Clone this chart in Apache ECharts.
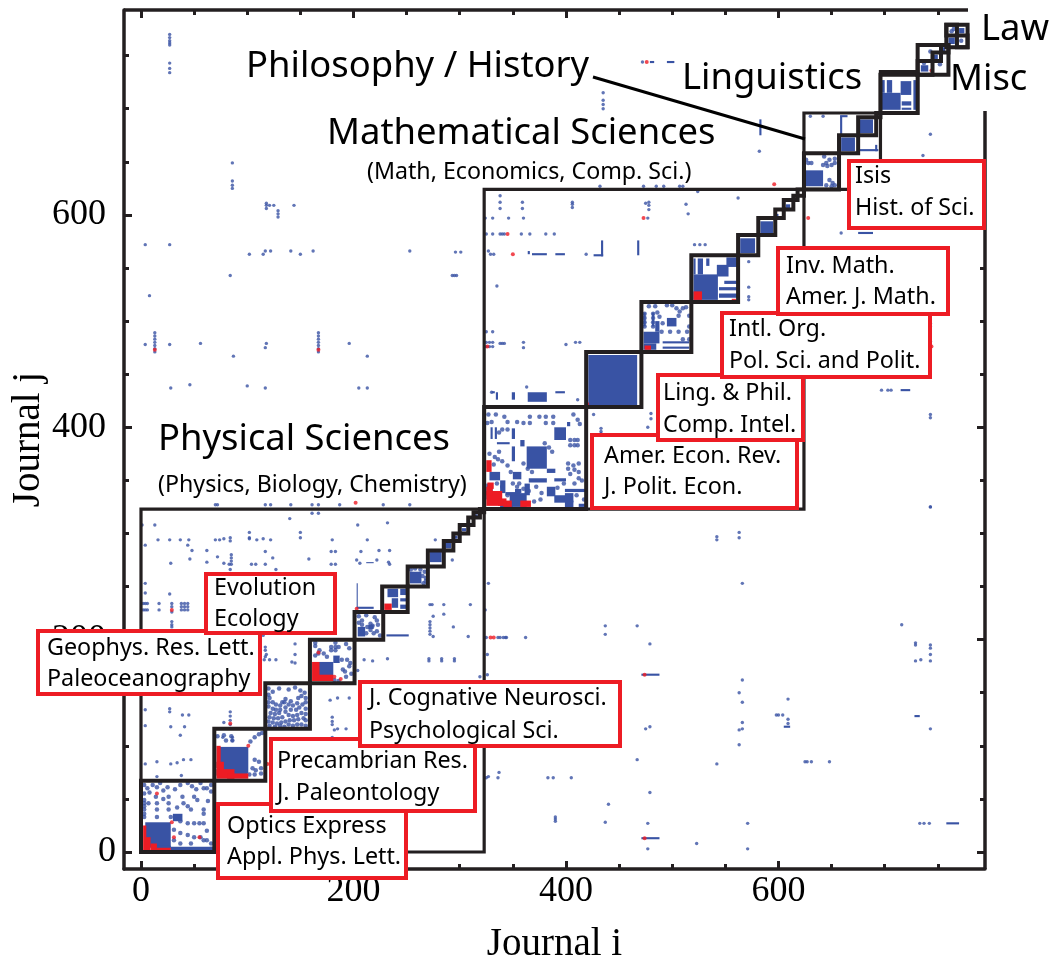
<!DOCTYPE html>
<html><head><meta charset="utf-8">
<style>html,body{margin:0;padding:0;background:#fff}#c{width:1053px;height:963px}</style>
<script src="https://cdn.jsdelivr.net/npm/echarts@6/dist/echarts.min.js"></script>
</head><body><div id="c"></div>
<script>
const xMajor=[0,200,400,600], yMajor=[0,200,400,600];
const yLabels=[200,400,600], yZeroLabel=[0];
const xMinor=[50,100,150,250,300,350,450,500,550,650,700,750];
const yMinor=[50,100,150,250,300,350,450,500,550,650,700,750];
const yMinorRight=[50,100,150,250,300,350,450,500,550];

// sparse non-zero entries [i, j]
const bluePoints=[
[743,325],[563,301],[563,296],[542,297],[542,294],[566,253],[327,253],[324,228],[437,213],[437,205],[467,213],[479,196],[716,214],[729,197],[729,195],[743,195],[743,192],[743,186],[729,180],[734,181],[743,180],
[325,202],[336,202],[338,202],[341,202],[343,202],[344,202],[362,202],[326,186],[326,167],[566,162],[563,150],[566,141],[609,144],[598,129],[600,129],[604,129],[609,125],[609,121],[566,122],[566,116],[563,115],[475,116],[479,118],[743,116],[563,101],[467,87],[542,83],[625,85],[627,85],[631,85],[648,85],[337,75],[336,70],[325,70],[327,71],[383,70],[388,70],[405,70],[479,56],[440,45],[437,28],[390,33],[390,31],[390,29],[477,27],[571,27],[733,27],[737,27],[742,27],[523,8],[477,3],[571,3],
[27,770],[27,767],[27,764],[27,762],[27,760],[27,743],[27,738],[27,734],[86,649],[86,632],[86,628],[86,625],[118,611],[118,609],[118,606],[121,609],[125,609],[144,609],[129,604],[129,601],[129,598],[4,572],[27,572],[253,566],[102,563],[115,563],[117,566],[122,566],[141,566],[150,563],[162,566],[296,565],[301,565],[84,543],[293,543],[295,543],[297,543],[8,524],
[13,489],[13,486],[13,483],[13,480],[13,477],[13,474],[13,471],[167,489],[167,486],[167,483],[167,480],[167,477],[167,474],[167,471],[4,478],[27,478],[56,479],[118,479],[117,475],[196,479],[87,467],[213,467],[28,437],[46,440],[100,439],[117,437],[205,437],[213,437],
[70,327],[72,327],[117,327],[122,327],[141,327],[161,327],[167,327],[187,327],[228,327],[253,327],[161,319],[167,319],[140,314],[1,308],[13,308],[102,301],[102,296],[150,301],[150,296],[16,294],[27,294],[37,294],[45,294],[70,294],[74,294],[78,295],[84,296],[84,293],[102,295],[109,294],[115,295],[122,294],[44,289],[48,284],[4,289],[62,284],[46,276],[28,272],[62,273],[72,278],[85,280],[85,277],[85,274],[85,271],[83,271],[84,266],[78,272],[104,271],[108,271],[117,271],[117,283],[124,277],[127,266],[158,276],[180,294],[179,283],[183,283],[179,271],[183,271],[204,308],[232,310],[213,294],[207,283],[224,284],[234,284],[203,275],[206,272],[222,275],[233,273],[234,271],[293,275],[277,294],
[4,253],[4,244],[27,243],[2,234],[4,234],[6,234],[2,228],[4,228],[6,228],[17,234],[17,228],[29,234],[29,231],[29,226],[38,234],[41,234],[44,234],[38,228],[41,228],[44,228],[38,231],[41,231],[44,231],[29,217],[29,214],[29,212],
[272,233],[274,233],[285,233],[310,233],[275,222],[285,224],[272,217],[272,214],[272,211],[272,208],[272,205],[275,203],[294,212],[308,203],[271,182],[271,180],[283,182],[283,180],[295,182],[295,180],[319,165],
[115,204],[117,193],[118,186],[112,181],[116,181],[121,181],[127,181],[145,196],[145,186],[142,179],[145,178],
[117,190],[117,184],[4,134],[4,119],[27,135],[27,132],[39,129],[45,129],[28,118],[41,118],[37,110],[78,122],[84,132],[84,128],[84,124],[84,120],[77,108],[86,108],[86,105],[15,85],[4,83],[28,83],[34,84],[40,87],[47,87],[15,71],[38,72],
[178,143],[185,145],[196,145],[180,127],[180,123],[180,120],[182,115],[185,116],[193,116],[180,108],[204,171],[218,180],[232,182],[210,181],
[338,618],[338,612],[338,606],[359,612],[359,606],[406,612],[406,610],[406,607],[475,611],[478,612],[478,609],[478,605],[513,610],[515,601],[324,597],[331,597],[346,597],[360,597],[477,597],[325,582],[331,582],[338,582],[340,582],[342,582],[358,582],[366,582],[381,582],[389,582],[327,566],[329,563],[332,563],[419,563],[521,572],[526,572],[531,572],[335,533],[325,490],[331,490],
[325,480],[328,480],[331,480],[325,476],[328,476],[331,476],[338,479],[340,479],[342,479],[360,480],[360,475],[400,478],[409,480],[413,480],
[330,433],[363,438],[411,426],[572,556],[572,532],[572,523],[572,520],[562,523],[562,616],[524,622],[426,412],[433,399],[433,396],[433,394],[480,413],[480,408],[477,400],[428,379],[428,375],[428,371],[428,367],[428,352],[428,349],[611,359],[611,338],[432,328],[479,327],[564,328],[571,325],[587,325],
[472,744],[435,715],[435,708],[435,704],[435,700],[582,660],[432,627],[473,627],[485,627],[492,627],[507,627],[510,627],
[659,583],[697,435],[703,435],[706,435],[743,412],[743,409],[743,325],[743,501],[743,498],[743,495],[743,481],[743,478],[743,473],[743,676],[736,656],[630,693],[642,693]
];
const redPoints=[[329,202],[332,202],[474,167],[474,13],[13,473],[167,473],[202,329],[29,228],[84,121],[119,83],[125,85],[476,744],[596,629],[628,597],[744,476],[326,476],[345,582],[473,597],[350,563],[420,422],[29,28],[15,55],[31,14],[55,14],[101,100],[203,229],[734,745],[744,736],[182,165],[188,163],[167,188]];

// points inside the diagonal communities [i, j]
const clusterPoints=[
// block A
[3,55],[3,49],[3,46],[3,43],[3,40],[3,36],[3,33],[7,46],[11,63],[14,52],[15,61],[18,65],[25,61],[26,52],[26,46],[26,40],[28,33],[15,46],[15,40],[15,33],[37,63],[44,65],[56,65],[59,60],[62,60],[66,63],[66,57],[50,52],[53,49],[40,46],[44,43],[47,40],[59,40],[59,36],[37,29],[44,27],[50,27],[55,27],[59,27],[31,21],[37,18],[44,16],[50,14],[56,14],[62,11],[31,11],[47,8],[66,8],[59,11],[66,3],[6,60],[3,63],[8,56],[21,50],[21,58],[32,59],[48,62],[52,59],[39,52],[34,42],[63,48],[62,20],[37,8],
// block B
[72,109],[78,110],[85,109],[80,105],[86,105],[103,104],[107,108],[111,111],[114,112],[107,87],[111,85],[105,79],[108,77],[113,79],[102,73],[107,73],[113,74],
// block C
[120,154],[124,151],[130,154],[139,153],[145,155],[150,152],[154,150],[151,147],[155,145],[148,145],[155,141],[152,139],[155,135],[120,148],[121,145],[120,141],[124,141],[127,139],[120,137],[124,135],[127,134],[131,138],[135,141],[122,131],[126,130],[130,131],[121,127],[125,126],[129,126],[133,127],[120,123],[124,122],[128,121],[132,122],[136,123],[121,119],[126,118],[131,119],[135,118],[139,120],[143,119],[147,120],[151,120],[155,119],[140,124],[144,124],[148,125],[153,126],[155,130],[151,131],[147,129],[143,128],[139,129],[155,124],[136,144],[141,142],[143,138],[141,134],[136,132],[131,134],[133,141],[139,139],[136,136],[146,134],[149,136],[147,140],
// block D
[164,194],[167,187],[168,190],[175,184],[179,193],[179,190],[183,197],[183,193],[183,190],[186,193],[193,196],[196,192],[194,181],[197,178],[164,197],[164,185],[172,187],[190,172],[193,165],[182,162],[186,161],[177,165],[192,170],[198,168],[196,175],[189,181],
// block E
[205,222],[208,218],[212,223],[220,221],[222,218],[216,215],[213,212],[216,209],[219,206],[222,208],[225,204],[212,206],[218,213],[208,214],[205,216],[223,214],
// block G
[258,267],[263,266],[267,264],[268,258],[266,253],[268,255],[254,266],[265,260],
// block P1
[375,410],[330,405],[334,412],[342,410],[345,405],[340,398],[337,395],[345,398],[354,405],[360,404],[366,410],[366,404],[381,410],[381,404],[388,410],[388,404],[407,412],[411,407],[413,403],[380,385],[384,381],[387,377],[404,388],[408,388],[411,388],[404,383],[408,383],[411,383],[402,366],[407,364],[412,366],[402,361],[408,360],[404,356],[412,358],[360,366],[364,361],[368,358],[340,368],[345,364],[336,370],[332,365],[350,347],[356,347],[360,342],[365,340],[372,344],[377,338],[376,332],[370,330],[392,343],[398,347],[408,347],[412,352],[415,350],[417,332],[410,336],[405,330],[335,347],[340,344],[345,336],[327,412],[326,404],[337,377],[328,375],[333,372],[348,358],[354,344],
// block P3
[474,507],[474,503],[474,499],[474,495],[482,507],[482,503],[482,499],[482,495],[486,508],[488,504],[491,498],[484,514],[478,514],[504,512],[507,509],[510,512],[495,515],[500,515],[513,513],[516,505],[516,495],[514,490],[506,490],[498,490],[490,490],[516,483],[510,483],[506,505],
// block H1
[626,652],[628,649],[631,649],[643,655],[648,652],[653,653],[645,649],[650,647],[653,649],[642,647],[646,646],[648,633],[651,630],[645,628],[650,627],[653,628],
// Misc and Law
[743,754],[752,742],[737,743],[763,773],[772,764],[765,775]
];

// filled runs of the matrix [i0, j0, i1, j1]
const blueRects=[
[4,4,28,28],[10,2,28,6],[28,1,69,5],[30,29,39,36],
[74,74,101,99],[82,71,100,76],
[167,166,181,179],[181,178,187,185],
[203,230,204,253],[203,229,219,231],[231,203,252,205],[212,272,219,273],[368,562,382,564],[390,562,399,564],[426,561,435,563],[433,561,435,576],[467,562,469,576],[364,563,366,566],
[471,166,488,168],[471,12,488,14],[605,117,611,119],[728,127,733,129],[758,26,770,28],[495,743,502,745],[479,743,483,745],[582,675,584,690],[675,582,689,584],[715,434,724,436],
[204,203,211,212],[214,210,219,214],
[232,240,242,248],[244,242,250,248],[236,230,242,239],[244,236,250,239],[244,229,250,233],
[253,253,264,264],[272,273,283,283],[286,286,292,291],[294,295,298,298],[302,302,306,305],[308,308,311,310],[314,315,317,318],
[364,424,382,433],[390,432,399,434],[334,426,336,433],[349,426,352,433],[330,432,333,434],
[363,361,382,382],[389,388,400,400],[349,389,352,399],[349,368,352,382],[329,389,331,400],[333,389,335,400],[365,348,382,352],[389,349,400,352],[350,351,358,358],[382,357,390,361],[382,335,390,344],[389,329,400,336],[335,384,347,386],[357,382,361,388],[401,401,404,405],[399,339,418,342],[399,324,407,338],[412,325,418,328],
[328,350,338,358],[325,332,331,347],[347,325,363,338],[338,324,350,330],[338,338,343,350],[343,336,357,339],[361,336,366,347],[352,338,358,342],
[421,420,467,468],
[473,479,488,490],[491,479,516,481],[491,474,516,476],[495,495,504,503],[473,473,485,479],[473,495,475,508],[481,495,483,508],[484,490,488,500],
[520,520,543,544],[542,542,553,553],[551,551,561,560],[520,544,522,559],[524,544,529,559],[532,552,535,559],[544,529,561,532],[544,522,561,526],[549,535,561,538],
[564,564,578,578],[583,583,595,594],[607,606,611,610],[597,599,600,601],
[625,627,642,642],[658,675,660,693],[658,692,665,694],[675,660,694,662],[691,660,693,666],
[659,660,672,673],[676,677,689,690],[693,694,695,696],
[697,699,715,715],[697,715,700,727],[702,715,707,727],[715,713,725,726],[716,703,725,707],[716,699,725,701],[727,699,730,727],
[734,735,741,741],[744,745,750,751],[752,754,757,758],[760,761,766,767],[770,771,775,776]
];
const redRects=[
[2,1,5,25],[4,1,9,14],[9,1,15,8],[15,1,28,4],
[71,79,75,100],[71,72,78,85],[71,69,88,78],[81,69,101,74],
[161,161,168,179],[167,161,181,167],
[229,228,236,234],
[325,326,340,340],[325,358,330,369],[326,342,332,348],[357,325,367,331],[341,325,349,331],[336,326,344,333],[325,336,331,344],
[474,473,480,477],[520,520,528,528],[556,520,560,521]
];

// community outlines [i0, j0, i1, j1]
const thickBoxes=[
[0,0,69,67],[69,67,117,116],[117,116,159,159],[159,159,201,200],[201,200,228,226],[227,226,251,250],[251,250,270,269],[270,269,285,284],[285,284,294,293],[294,293,300,300],[300,300,308,308],[308,308,313,315],[313,315,319,320],[319,320,323,323],
[323,323,419,419],[419,419,471,471],[471,471,518,518],[518,518,562,562],[562,562,581,581],[581,581,597,597],[597,597,605,605],[605,605,614,614],[614,614,618,618],[618,618,624,624],
[624,624,657,658],[657,658,675,675],[675,675,692,692],[692,692,696,696],[696,696,731,732],[731,732,745,745],[745,745,753,753],[753,753,760,760],[731,732,760,760],[758,758,778,779],[758,769,768,779],[768,758,778,769]
];
const thinBoxes=[[0,0,323,323],[323,323,624,624],[624,624,696,696],[696,696,731,735]];

const BLUE='#3953a4',RED='#ed1c24',INK='#231f20';
const SANS='"Noto Sans"',SERIF='"Liberation Serif"';
const rectItem=(fill)=>(p,api)=>{
  const a=api.coord([api.value(0),api.value(1)]),b=api.coord([api.value(2),api.value(3)]);
  return {type:'rect',shape:{x:a[0],y:b[1],width:b[0]-a[0],height:a[1]-b[1]},style:{fill}};
};
const boxItem=(w)=>(p,api)=>{
  const a=api.coord([api.value(0),api.value(1)]),b=api.coord([api.value(2),api.value(3)]);
  return {type:'rect',shape:{x:a[0],y:b[1],width:b[0]-a[0],height:a[1]-b[1]},style:{fill:'none',stroke:INK,lineWidth:w}};
};
const customEnc={x:[0,2],y:[1,3]};
const XMIN=-16,XMAX=794.4,YMIN=-16,YMAX=793;
const off={show:false,onZero:false};
const ax=(extra)=>Object.assign({type:'value',min:XMIN,max:XMAX,splitLine:{show:false},axisLine:off,axisLabel:{show:false},axisTick:{show:false}},extra);
const ay=(extra)=>Object.assign({type:'value',min:YMIN,max:YMAX,splitLine:{show:false},axisLine:off,axisLabel:{show:false},axisTick:{show:false}},extra);
const tick=(vals,len)=>({show:true,inside:true,length:len,customValues:vals,lineStyle:{color:INK,width:3}});
const line={show:true,onZero:false,lineStyle:{color:INK,width:3.5}};
const lab={show:true,color:'#000',fontFamily:SERIF,fontSize:36};

const redBoxes=[
[218,804,188,74,'Optics Express','Appl. Phys. Lett.',227,825,856],
[271,739,204,72,'Precambrian Res.','J. Paleontology',277,760,792],
[360,682,260,64,'J. Cognative Neurosci.','Psychological Sci.',369,697,730],
[38,631,222,63,'Geophys. Res. Lett.','Paleoceanography',47,647,678],
[206,574,129,59,'Evolution','Ecology',214,587,618],
[592,435,205,73,'Amer. Econ. Rev.','J. Polit. Econ.',604,455,486],
[658,375,145,65,'Ling. & Phil.','Comp. Intel.',663,392,424],
[722,313,208,64,'Intl. Org.','Pol. Sci. and Polit.',729,328,360],
[778,248,170,66,'Inv. Math.','Amer. J. Math.',786,265,296],
[849,161,135,67,'Isis','Hist. of Sci.',855,175,207]
];
const bigLabels=[
['Philosophy / History',246,65,36.4],['Linguistics',682,77,36.4],['Mathematical Sciences',327,132,36.4],['(Math, Economics, Comp. Sci.)',367,170,23.2],
['Physical Sciences',158,438,36.4],['(Physics, Biology, Chemistry)',158,483,23.2],['Misc',950,78,36.4],['Law',981,28,36.4]
];
const txt=(t,x,y,size,z,dy)=>({type:'text',z:z||60,silent:true,style:{text:t,x,y:y+dy,fontFamily:SANS,fontSize:size,fill:'#000',align:'left',verticalAlign:'middle'}});
const graphics=[
 {type:'line',z:5,silent:true,shape:{x1:124,y1:10,x2:968,y2:10},style:{stroke:INK,lineWidth:3.5}},
 {type:'line',z:5,silent:true,shape:{x1:985,y1:111,x2:985,y2:869},style:{stroke:INK,lineWidth:3.5}},
 {type:'line',z:40,silent:true,shape:{x1:593,y1:77,x2:805,y2:139},style:{stroke:'#000',lineWidth:3}}
];
redBoxes.forEach(b=>{
 graphics.push({type:'rect',z:50,silent:true,shape:{x:b[0],y:b[1],width:b[2],height:b[3]},style:{fill:'#fff',stroke:RED,lineWidth:4}});
 graphics.push(txt(b[4],b[6],b[7],23.3,60,1));
 graphics.push(txt(b[5],b[6],b[8],23.3,60,1));
});
bigLabels.forEach(l=>graphics.push(txt(l[0],l[1],l[2],l[3],45,2)));

const chart=echarts.init(document.getElementById('c'),null,{renderer:'canvas'});
chart.setOption({
 animation:false,backgroundColor:'#fff',
 grid:{left:124,right:68,top:10,bottom:94,containLabel:false,outerBoundsMode:'none'},
 xAxis:[
  ax({position:'bottom',axisLine:line,axisTick:tick(xMajor,8),axisLabel:Object.assign({},lab,{customValues:xMajor,margin:5}),name:'Journal i',nameLocation:'middle',nameGap:56,nameMoveOverlap:false,nameTextStyle:{color:'#000',fontFamily:SERIF,fontSize:39}}),
  ax({position:'bottom',axisTick:tick(xMinor,5)}),
  ax({position:'top',axisTick:tick(xMajor,8)}),
  ax({position:'top',axisTick:tick(xMinor,5)})
 ],
 yAxis:[
  ay({position:'left',axisLine:line,axisTick:tick(yMajor,8),axisLabel:Object.assign({},lab,{customValues:yLabels,margin:18}),name:'Journal j',nameLocation:'middle',nameGap:76,nameMoveOverlap:false,nameTextStyle:{color:'#000',fontFamily:SERIF,fontSize:39}}),
  ay({position:'left',axisTick:tick(yMinor,5),axisLabel:Object.assign({},lab,{customValues:yZeroLabel,margin:8})}),
  ay({position:'right',axisTick:tick(yMajor.slice(0,3),8)}),
  ay({position:'right',axisTick:tick(yMinorRight,5)})
 ],
 graphic:{elements:graphics},
 series:[
  {type:'scatter',data:bluePoints,symbolSize:3.4,itemStyle:{color:BLUE},z:2,silent:true},
  {type:'scatter',data:clusterPoints,symbolSize:4.5,itemStyle:{color:BLUE},z:2,silent:true},
  {type:'custom',data:blueRects,renderItem:rectItem(BLUE),encode:customEnc,z:3,silent:true},
  {type:'custom',data:redRects,renderItem:rectItem(RED),encode:customEnc,z:4,silent:true},
  {type:'scatter',data:redPoints,symbolSize:4,itemStyle:{color:RED},z:5,silent:true},
  {type:'custom',data:thickBoxes,renderItem:boxItem(4),encode:customEnc,z:6,silent:true},
  {type:'custom',data:thinBoxes,renderItem:boxItem(3.2),encode:customEnc,z:6,silent:true}
 ]
});
</script></body></html>
